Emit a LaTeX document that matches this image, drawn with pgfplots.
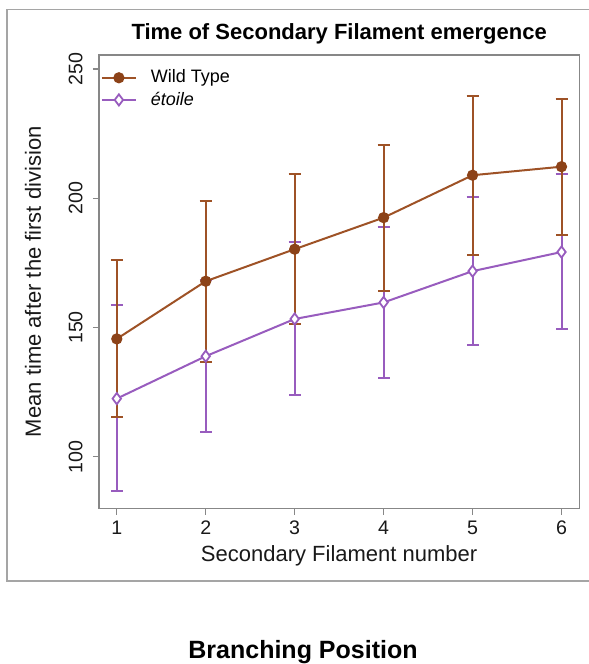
\documentclass[border=0pt]{standalone}
\usepackage{fontspec}
\setmainfont{Liberation Sans}
\usepackage{pgfplots}
\pgfplotsset{compat=1.18}
\usepackage{pgfplotstable}
\definecolor{wt}{RGB}{158,82,38}
\definecolor{wtdark}{RGB}{140,66,24}
\definecolor{et}{RGB}{152,92,190}
\definecolor{framegray}{RGB}{165,165,165}
\definecolor{axgray}{RGB}{135,135,135}

\pgfplotstableread{
x y ep em
1 145.6 30.7 30.4
2 167.9 31.0 31.2
3 180.3 29.0 28.9
4 192.5 28.0 28.5
5 208.9 30.7 30.9
6 212.2 26.2 26.3
}\wtdata

\pgfplotstableread{
x y ep em
1 122.5 36.2 35.9
2 138.9 29.5 29.5
3 153.3 29.7 29.5
4 159.7 29.3 29.3
5 171.8 28.7 28.6
6 179.2 30.1 29.8
}\etdata

\begin{document}
\begin{tikzpicture}
\useasboundingbox (0,0) rectangle (294.5pt,-332pt);
\draw[framegray, line width=0.75pt] (3.5pt,-4.65pt) rectangle (300pt,-290.5pt);
\begin{axis}[
  at={(49.5pt,-254.25pt)}, anchor=south west,
  scale only axis, width=240.15pt, height=226.75pt,
  xmin=0.8, xmax=6.2, ymin=80, ymax=255.4,
  xtick={1,2,3,4,5,6}, ytick={100,150,200,250},
  axis line style={axgray, line width=0.6pt},
  tick style={axgray, line width=0.6pt},
  tick align=outside, major tick length=3pt,
  xtick pos=left, ytick pos=left,
  /pgf/number format/assume math mode=true,
  ticklabel style={font=\fontsize{9.8}{11}\selectfont, text=black!90},
  yticklabel style={rotate=90, anchor=south, inner sep=0pt},
  xticklabel style={anchor=north, inner sep=0pt},
  yticklabel shift=5pt,
  xticklabel shift=3pt,
  title={Time of Secondary Filament emergence},
  title style={font=\bfseries\fontsize{11}{13}\selectfont, at={(axis description cs:0.5,1)}, anchor=base, yshift=2pt},
  xlabel={Secondary Filament number},
  xlabel style={font=\fontsize{11}{13}\selectfont, text=black!90, at={(axis description cs:0.5,-0.1173)}, anchor=base},
  ylabel={Mean time after the first division},
  ylabel style={font=\fontsize{11}{13}\selectfont, text=black!90, at={(axis description cs:-0.1374,0.5)}, anchor=center},
  legend style={at={(axis description cs:-0.0095,0.986)}, anchor=north west, draw=none, fill=none,
    font=\fontsize{9}{10.5}\selectfont, row sep=-1pt,
    /tikz/every odd column/.append style={column sep=5pt}},
  legend cell align=left,
  reverse legend,
]
\addplot[et, line width=1pt, mark=diamond*, mark size=2.8pt, mark options={fill=white, line width=0.9pt},
  error bars/.cd, y dir=both, y explicit, error mark=|,
  error mark options={et, line width=1pt, mark size=3pt},
  error bar style={et, line width=1pt}]
  table[x=x, y=y, y error plus=ep, y error minus=em]{\etdata};
\addlegendentry{\itshape étoile}
\addplot[wt, line width=1pt, mark=*, mark size=2.3pt, mark options={fill=wtdark, draw=wtdark},
  error bars/.cd, y dir=both, y explicit, error mark=|,
  error mark options={wt, line width=1pt, mark size=3pt},
  error bar style={wt, line width=1pt}]
  table[x=x, y=y, y error plus=ep, y error minus=em]{\wtdata};
\addlegendentry{Wild Type}
\end{axis}
\node[font=\bfseries\fontsize{12.5}{14}\selectfont, anchor=base] at (151.5pt,-329pt) {Branching Position};
\end{tikzpicture}
\end{document}
